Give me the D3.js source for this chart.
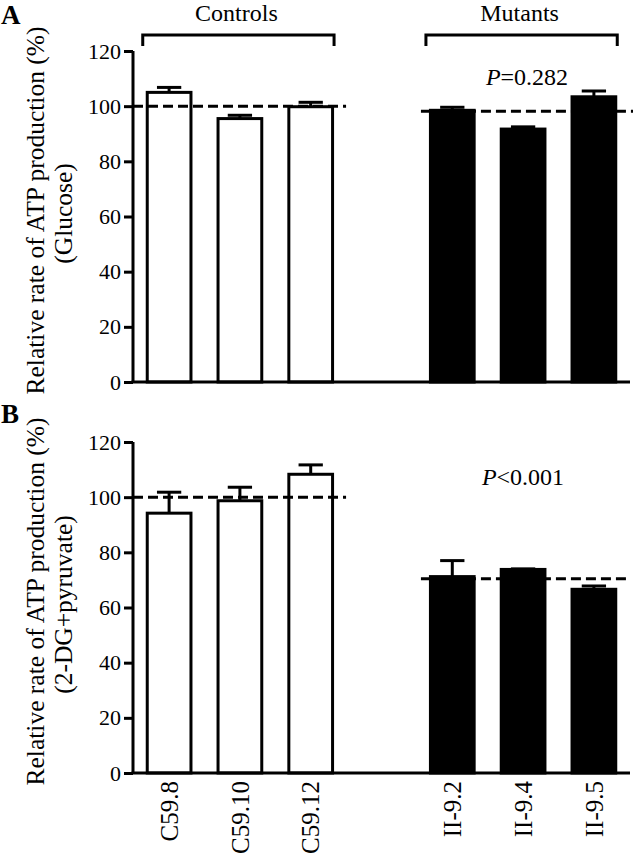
<!DOCTYPE html>
<html>
<head>
<meta charset="utf-8">
<script src="https://cdn.jsdelivr.net/npm/d3@7"></script>
<style>
  html, body { margin: 0; padding: 0; background: #fff; }
  svg { display: block; }
  svg text { font-family: "Liberation Serif", "Times New Roman", serif; fill: #000; }
</style>
</head>
<body>
<svg id="chart" width="633" height="853"></svg>
<script>
// ---- data ----
const categories = ["C59.8", "C59.10", "C59.12", "II-9.2", "II-9.4", "II-9.5"];
const groups = ["Controls", "Controls", "Controls", "Mutants", "Mutants", "Mutants"];
const groupLabels = ["Controls", "Mutants"];
const glucoseMean = [105.0, 95.5, 99.8, 98.5, 91.7, 103.4];
const glucoseSem = [1.8, 1.2, 1.6, 1.1, 0.8, 2.1];
const pyruvateMean = [94.2, 98.7, 108.3, 71.2, 73.8, 66.6];
const pyruvateSem = [7.6, 4.9, 3.4, 5.8, 0.2, 1.2];
const glucoseRef = [100, 98.2];
const pyruvateRef = [100, 70.4];
const pTexts = ["P=0.282", "P<0.001"];
const yTicks = [0, 20, 40, 60, 80, 100, 120];
const panelLetters = ["A", "B"];
const yTitleLine1 = "Relative rate of ATP production (%)";
const yTitleLine2 = ["(Glucose)", "(2-DG+pyruvate)"];

// ---- layout ----
const FONT = "Liberation Serif";
const svg = d3.select("#chart");
const slots = ["C59.8", "C59.10", "C59.12", "__gap__", "II-9.2", "II-9.4", "II-9.5"];
const x = d3.scaleBand().domain(slots).range([133, 630]).paddingInner(0.34).paddingOuter(0.18);
const bw = x.bandwidth();

const panels = [
  { mean: glucoseMean, sem: glucoseSem, ref: glucoseRef, range: [382, 51], letterY: 24, pY: 85, title2: yTitleLine2[0], showX: false },
  { mean: pyruvateMean, sem: pyruvateSem, ref: pyruvateRef, range: [773, 442], letterY: 423, pY: 485, title2: yTitleLine2[1], showX: true }
];

const SW = 3;

panels.forEach((p, pi) => {
  const y = d3.scaleLinear().domain([0, 120]).range(p.range);
  const g = svg.append("g");

  // bars
  categories.forEach((c, i) => {
    const filled = groups[i] === "Mutants";
    g.append("rect")
      .attr("x", x(c) + SW / 2)
      .attr("y", y(p.mean[i]))
      .attr("width", bw - SW)
      .attr("height", y(0) - y(p.mean[i]))
      .attr("fill", filled ? "#000" : "#fff")
      .attr("stroke", "#000")
      .attr("stroke-width", SW);
    // error bar (upper only)
    const cx = x(c) + bw / 2;
    const top = y(p.mean[i] + p.sem[i]);
    g.append("line")
      .attr("x1", cx).attr("x2", cx)
      .attr("y1", y(p.mean[i])).attr("y2", top)
      .attr("stroke", "#000").attr("stroke-width", SW);
    g.append("line")
      .attr("x1", cx - bw * 0.26).attr("x2", cx + bw * 0.26)
      .attr("y1", top).attr("y2", top)
      .attr("stroke", "#000").attr("stroke-width", SW);
  });

  // reference dashed lines (group means)
  const ctrlX1 = 133, ctrlX2 = x(categories[2]) + bw + 12;
  const mutX1 = x(categories[3]) - 8, mutX2 = pi === 0 ? 633 : 627;
  [[ctrlX1, ctrlX2, p.ref[0]], [mutX1, mutX2, p.ref[1]]].forEach(([a, b, v]) => {
    g.append("line")
      .attr("x1", a).attr("x2", b)
      .attr("y1", y(v)).attr("y2", y(v))
      .attr("stroke", "#000").attr("stroke-width", SW)
      .attr("stroke-dasharray", "10,5");
  });

  // y axis
  const yAxis = d3.axisLeft(y).tickValues(yTicks).tickSize(9).tickPadding(3).tickFormat(d3.format("d"));
  const ya = g.append("g").attr("transform", "translate(133,0)").call(yAxis)
    .attr("font-family", FONT).attr("font-size", 22);
  ya.select(".domain").attr("stroke-width", SW).attr("d", `M0,${y(120)}V${y(0)}`);
  ya.selectAll(".tick line").attr("stroke-width", SW);
  ya.selectAll(".tick text").attr("font-size", 22).attr("font-family", FONT).attr("fill", "#000");

  // x baseline
  g.append("line")
    .attr("x1", 131.5).attr("x2", 630)
    .attr("y1", y(0)).attr("y2", y(0))
    .attr("stroke", "#000").attr("stroke-width", SW);

  // x labels
  if (p.showX) {
    categories.forEach((c) => {
      const cx = x(c) + bw / 2;
      g.append("text")
        .attr("transform", `translate(${cx},${y(0) + 8}) rotate(-90)`)
        .attr("text-anchor", "end")
        .attr("dy", "0.35em")
        .attr("font-family", FONT)
        .attr("font-size", 25)
        .text(c);
    });
  }

  // y title
  const cy = (p.range[0] + p.range[1]) / 2 - 6;
  g.append("text")
    .attr("transform", `translate(44,${cy}) rotate(-90)`)
    .attr("text-anchor", "middle")
    .attr("font-family", FONT)
    .attr("font-size", 25.5)
    .text(yTitleLine1);
  g.append("text")
    .attr("transform", `translate(72,${cy + 3}) rotate(-90)`)
    .attr("text-anchor", "middle")
    .attr("font-family", FONT)
    .attr("font-size", 25.5)
    .text(p.title2);

  // P value text
  const pt = g.append("text")
    .attr("x", pi === 0 ? 527 : 523)
    .attr("y", p.pY)
    .attr("text-anchor", "middle")
    .attr("font-family", FONT)
    .attr("font-size", 24);
  pt.append("tspan").attr("font-style", "italic").text(pTexts[pi].slice(0, 1));
  pt.append("tspan").text(pTexts[pi].slice(1));

  // panel letter
  svg.append("text")
    .attr("x", 1).attr("y", p.letterY)
    .attr("font-family", FONT)
    .attr("font-size", 27).attr("font-weight", "bold")
    .text(panelLetters[pi]);
});

// group brackets (top)
groupLabels.forEach((gl) => {
  const idx = groups.map((d, i) => d === gl ? i : -1).filter(i => i >= 0);
  const x1 = x(categories[idx[0]]) - 3;
  const x2 = x(categories[idx[idx.length - 1]]) + bw;
  svg.append("path")
    .attr("d", `M${x1},46V35H${x2}V46`)
    .attr("fill", "none").attr("stroke", "#000").attr("stroke-width", SW);
  svg.append("text")
    .attr("x", (x1 + x2) / 2 - 2).attr("y", 21)
    .attr("text-anchor", "middle")
    .attr("font-family", FONT)
    .attr("font-size", 24)
    .text(gl);
});
</script>
</body>
</html>
